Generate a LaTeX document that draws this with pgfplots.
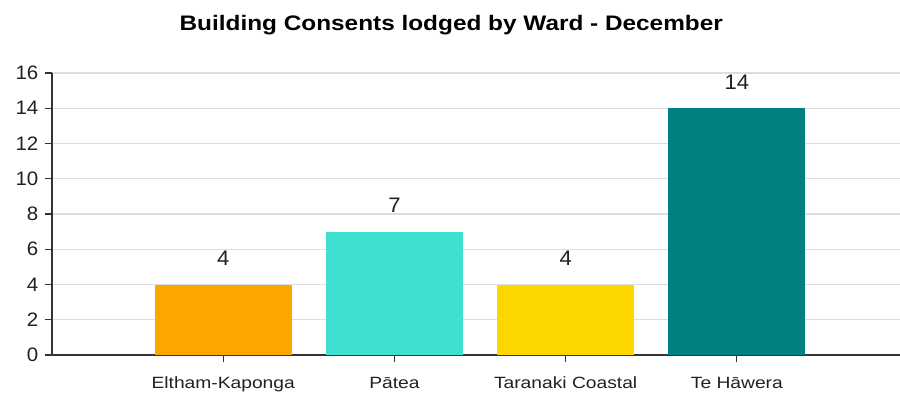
\documentclass[border=0pt]{standalone}
\usepackage{pgfplots}
\pgfplotsset{compat=1.18}
\usepackage{fontspec}
\setmainfont{Liberation Sans}
\definecolor{cEK}{HTML}{FFA500}
\definecolor{cPA}{HTML}{40E0D0}
\definecolor{cTC}{HTML}{FFD700}
\definecolor{cTH}{HTML}{008080}
\definecolor{gridc}{HTML}{DEDEDE}
\definecolor{axc}{HTML}{333333}
\definecolor{txt}{HTML}{202028}
\begin{document}
\begin{tikzpicture}
\useasboundingbox (-52pt,-37pt) rectangle (848pt,355pt);
\begin{axis}[
  scale only axis,
  width=848pt, height=282pt,
  xmin=0, xmax=4.953,
  ymin=0, ymax=16,
  ytick={0,2,...,16},
  xtick={1,2,3,4},
  xticklabels={Eltham-Kaponga, P\={a}tea, Taranaki Coastal, Te H\={a}wera},
  axis x line*=bottom,
  axis y line*=left,
  axis line style={axc, line width=1.6pt},
  ymajorgrids,
  grid style={gridc, line width=1.2pt},
  ytick style={axc, line width=1.2pt},
  xtick style={axc, line width=1.2pt},
  major tick length=7pt,
  tick align=outside,
  xtick pos=bottom, ytick pos=left,
  /pgf/number format/assume math mode=true,
  yticklabel style={font=\fontsize{19.5}{19.5}\selectfont, text=txt, xshift=-3pt, xscale=1.05},
  xticklabel style={font=\fontsize{16.3}{16.3}\selectfont, text=txt, anchor=base, yshift=-26pt, xscale=1.18},
  title={\bfseries Building Consents lodged by Ward - December},
  title style={font=\fontsize{21}{21}\selectfont, at={(0.4708,1)}, yshift=42pt, anchor=center, xscale=1.16, text=black},
  ybar, bar width=0.8,
  nodes near coords,
  nodes near coords style={font=\fontsize{21}{21}\selectfont, text=txt, anchor=base, yshift=19pt, xscale=1.05},
  clip=false,
]
\addplot[fill=cEK, draw=none, bar shift=0pt] coordinates {(1,4)};
\addplot[fill=cPA, draw=none, bar shift=0pt] coordinates {(2,7)};
\addplot[fill=cTC, draw=none, bar shift=0pt] coordinates {(3,4)};
\addplot[fill=cTH, draw=none, bar shift=0pt] coordinates {(4,14)};
\end{axis}
\end{tikzpicture}
\end{document}
